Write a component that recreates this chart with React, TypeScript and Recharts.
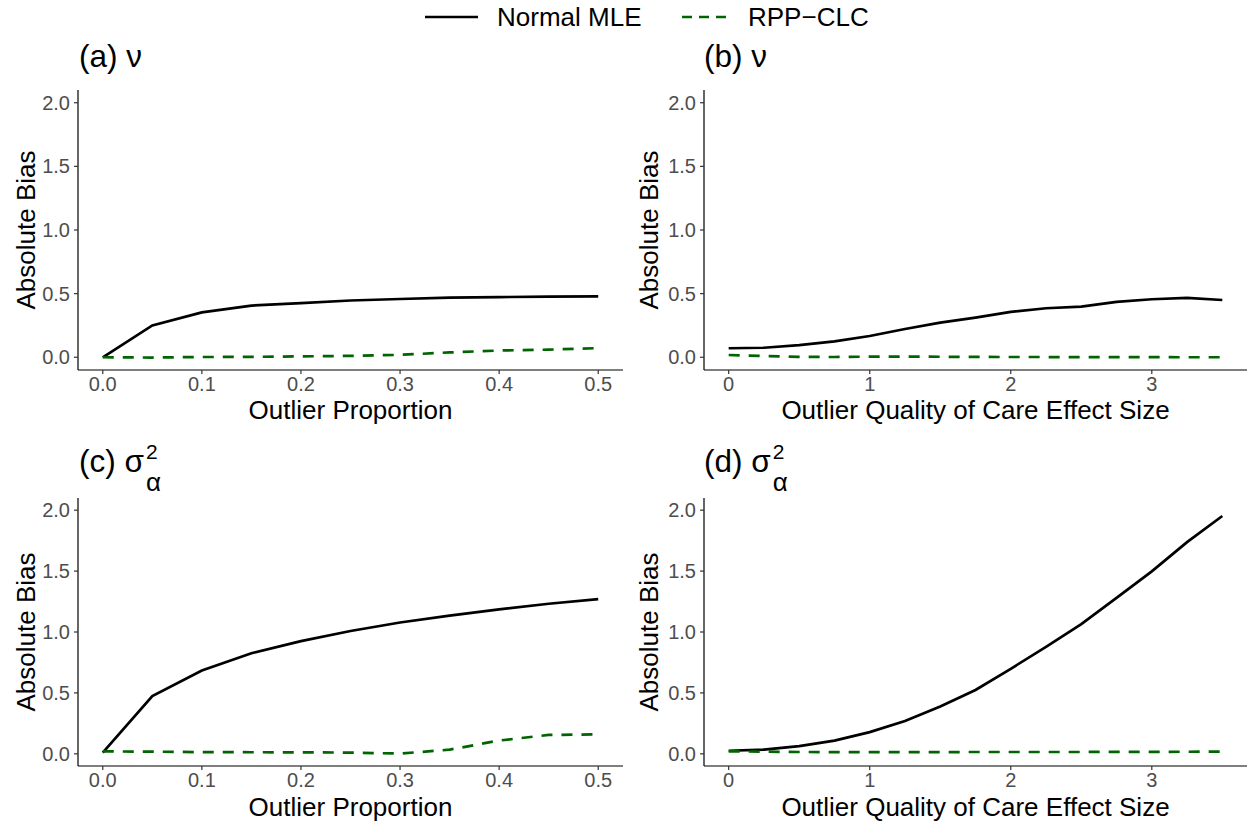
import React from 'react';
import { LineChart, Line, XAxis, YAxis } from 'recharts';

const FONT = '"Liberation Sans", Arial, Helvetica, sans-serif';

// x values
const propX = [0, 0.05, 0.1, 0.15, 0.2, 0.25, 0.3, 0.35, 0.4, 0.45, 0.5];
const effX = [0, 0.25, 0.5, 0.75, 1, 1.25, 1.5, 1.75, 2, 2.25, 2.5, 2.75, 3, 3.25, 3.5];

// (a) nu vs outlier proportion
const aMLE = [0.0, 0.25, 0.353, 0.406, 0.425, 0.446, 0.458, 0.468, 0.473, 0.476, 0.478];
const aRPP = [0.0, -0.002, 0.002, 0.003, 0.007, 0.011, 0.019, 0.038, 0.053, 0.06, 0.072];

// (b) nu vs outlier effect size
const bMLE = [0.071, 0.075, 0.096, 0.125, 0.167, 0.222, 0.272, 0.312, 0.357, 0.385, 0.398, 0.435, 0.456, 0.466, 0.45];
const bRPP = [0.018, 0.01, 0.003, 0.002, 0.005, 0.006, 0.004, 0.003, 0.002, 0.002, 0.001, 0.001, 0.001, 0.0, 0.0];

// (c) sigma_alpha^2 vs outlier proportion
const cMLE = [0.01, 0.474, 0.684, 0.826, 0.925, 1.008, 1.078, 1.135, 1.185, 1.232, 1.27];
const cRPP = [0.02, 0.018, 0.014, 0.013, 0.012, 0.01, 0.002, 0.034, 0.109, 0.155, 0.16];

// (d) sigma_alpha^2 vs outlier effect size
const dMLE = [0.025, 0.035, 0.063, 0.108, 0.178, 0.27, 0.388, 0.524, 0.698, 0.878, 1.064, 1.28, 1.498, 1.738, 1.952];
const dRPP = [0.02, 0.018, 0.015, 0.014, 0.014, 0.014, 0.014, 0.015, 0.015, 0.015, 0.015, 0.016, 0.016, 0.017, 0.018];

const yTicks = [0, 0.5, 1, 1.5, 2];
const propTicks = [0, 0.1, 0.2, 0.3, 0.4, 0.5];
const effTicks = [0, 1, 2, 3];

const legendLabels = ['Normal MLE', 'RPP\u2212CLC'];
const xTitles = ['Outlier Proportion', 'Outlier Quality of Care Effect Size'];
const yTitle = 'Absolute Bias';

const build = (xs: number[], m: number[], r: number[]) =>
  xs.map((x, i) => ({ x, mle: m[i], rpp: r[i] }));

const tickStyle = { fill: '#4D4D4D', fontSize: 20, fontFamily: FONT };

function Panel(props: {
  left: number; top: number; width: number; height: number;
  marginTop: number; marginRight: number;
  data: any[]; xDomain: number[]; xTicks: number[]; xFmt: (v: number) => string;
}) {
  const { left, top, width, height, marginTop, marginRight, data, xDomain, xTicks, xFmt } = props;
  return (
    <div style={{ position: 'absolute', left, top }}>
      <LineChart width={width} height={height} data={data}
        margin={{ top: marginTop, right: marginRight, bottom: 0, left: 0 }}>
        <XAxis dataKey="x" type="number" domain={xDomain} ticks={xTicks} allowDataOverflow
          interval={0} tickFormatter={xFmt} height={30}
          axisLine={{ stroke: '#000', strokeWidth: 1.2 }} tickLine={{ stroke: '#333', strokeWidth: 1.2 }}
          tickSize={4} tickMargin={3} tick={tickStyle} />
        <YAxis type="number" domain={[-0.1, 2.1]} ticks={yTicks} allowDataOverflow interval={0}
          tickFormatter={(v: number) => v.toFixed(1)} width={78}
          axisLine={{ stroke: '#000', strokeWidth: 1.2 }} tickLine={{ stroke: '#333', strokeWidth: 1.2 }}
          tickSize={4} tickMargin={4} tick={tickStyle} />
        <Line dataKey="mle" type="linear" stroke="#000" strokeWidth={2.7} dot={false} isAnimationActive={false} />
        <Line dataKey="rpp" type="linear" stroke="#006400" strokeWidth={2.7} strokeDasharray="11 9" dot={false} isAnimationActive={false} />
      </LineChart>
    </div>
  );
}

function SigmaTitle({ x, y, letter }: { x: number; y: number; letter: string }) {
  return (
    <text x={x} y={y} fontSize={31.5} fontFamily={FONT} fill="#000">
      {`(${letter}) \u03C3`}
      <tspan dx={2} dy={-13} fontSize={21}>2</tspan>
      <tspan dx={-11.7} dy={32} fontSize={26}>{'\u03B1'}</tspan>
    </text>
  );
}

export default function App() {
  const propFmt = (v: number) => v.toFixed(1);
  const effFmt = (v: number) => String(v);
  return (
    <div style={{ position: 'absolute', left: 0, top: 0, width: 1252, height: 825, background: '#fff', overflow: 'hidden' }}>
      <Panel left={0} top={0} width={630} height={400} marginTop={90} marginRight={7}
        data={build(propX, aMLE, aRPP)} xDomain={[-0.025, 0.525]} xTicks={propTicks} xFmt={propFmt} />
      <Panel left={626} top={0} width={626} height={400} marginTop={90} marginRight={5}
        data={build(effX, bMLE, bRPP)} xDomain={[-0.175, 3.675]} xTicks={effTicks} xFmt={effFmt} />
      <Panel left={0} top={420} width={630} height={376} marginTop={78} marginRight={7}
        data={build(propX, cMLE, cRPP)} xDomain={[-0.025, 0.525]} xTicks={propTicks} xFmt={propFmt} />
      <Panel left={626} top={420} width={626} height={376} marginTop={78} marginRight={5}
        data={build(effX, dMLE, dRPP)} xDomain={[-0.175, 3.675]} xTicks={effTicks} xFmt={effFmt} />
      <svg width={1252} height={825} style={{ position: 'absolute', left: 0, top: 0, pointerEvents: 'none' }}>
        {/* legend */}
        <line x1={425} x2={478} y1={17} y2={17} stroke="#000" strokeWidth={2.7} />
        <text x={497} y={26} fontSize={26} fontFamily={FONT} fill="#000">{legendLabels[0]}</text>
        <line x1={682} x2={726} y1={17} y2={17} stroke="#006400" strokeWidth={2.7} strokeDasharray="10 7" />
        <text x={748} y={26} fontSize={26} fontFamily={FONT} fill="#000">{legendLabels[1]}</text>
        {/* panel titles */}
        <text x={79} y={67} fontSize={31.5} fontFamily={FONT} fill="#000">(a) {'\u03BD'}</text>
        <text x={704} y={67} fontSize={31.5} fontFamily={FONT} fill="#000">(b) {'\u03BD'}</text>
        <SigmaTitle x={79} y={472} letter="c" />
        <SigmaTitle x={704} y={472} letter="d" />
        {/* x axis titles */}
        <text x={350.5} y={419} fontSize={26} textAnchor="middle" fontFamily={FONT} fill="#000">{xTitles[0]}</text>
        <text x={975.5} y={419} fontSize={26} textAnchor="middle" fontFamily={FONT} fill="#000">{xTitles[1]}</text>
        <text x={350.5} y={816} fontSize={26} textAnchor="middle" fontFamily={FONT} fill="#000">{xTitles[0]}</text>
        <text x={975.5} y={816} fontSize={26} textAnchor="middle" fontFamily={FONT} fill="#000">{xTitles[1]}</text>
        {/* y axis titles */}
        <text transform="translate(35,230) rotate(-90)" fontSize={26} textAnchor="middle" fontFamily={FONT} fill="#000">{yTitle}</text>
        <text transform="translate(658,230) rotate(-90)" fontSize={26} textAnchor="middle" fontFamily={FONT} fill="#000">{yTitle}</text>
        <text transform="translate(35,632) rotate(-90)" fontSize={26} textAnchor="middle" fontFamily={FONT} fill="#000">{yTitle}</text>
        <text transform="translate(658,632) rotate(-90)" fontSize={26} textAnchor="middle" fontFamily={FONT} fill="#000">{yTitle}</text>
      </svg>
    </div>
  );
}
